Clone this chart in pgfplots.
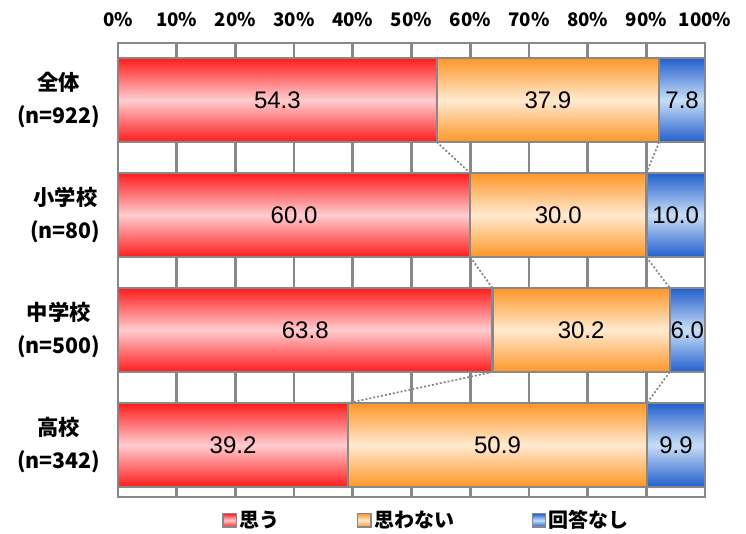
\documentclass[border=0pt]{standalone}
\usepackage{pgfplots}
\pgfplotsset{compat=1.18}
\usepackage{pgfplotstable}
\usepackage{fontspec}
\setmainfont{Liberation Sans}
\newfontfamily\jp{Noto Sans CJK JP}
\definecolor{gridgray}{RGB}{136,136,136}
\definecolor{reddark}{RGB}{255,28,28}
\definecolor{redlight}{RGB}{255,205,208}
\definecolor{ordark}{RGB}{255,150,40}
\definecolor{orlight}{RGB}{255,234,208}
\definecolor{bldark}{RGB}{35,95,205}
\definecolor{bllight}{RGB}{200,222,246}
% one small table per group: y position, 思う, 思わない, 回答なし
\pgfplotstableread{
y a b c
3 54.3 37.9 7.8
}\tZentai
\pgfplotstableread{
y a b c
2 60.0 30.0 10.0
}\tShou
\pgfplotstableread{
y a b c
1 63.8 30.2 6.0
}\tChuu
\pgfplotstableread{
y a b c
0 39.2 50.9 9.9
}\tKou
\pgfplotsset{
 geom/.style={at={(88.5pt,27pt)}, anchor=south west,
   scale only axis, width=440.25pt, height=340.5pt,
   xmin=0, xmax=100, ymin=-0.452, ymax=3.496},
 rowaxis/.style={geom, hide axis, xbar stacked, bar width=0.73,
   point meta=explicit,
   nodes near coords={\pgfmathprintnumber[fixed,fixed zerofill,precision=1,assume math mode=true]{\pgfplotspointmeta}},
   every node near coord/.append style={font=\fontsize{18}{20}\selectfont, anchor=center, text=black}},
 redbar/.style={draw=gridgray, line width=1.8pt, top color=reddark, bottom color=reddark, middle color=redlight},
 orbar/.style={draw=gridgray, line width=1.8pt, top color=ordark, bottom color=ordark, middle color=orlight},
 blbar/.style={draw=gridgray, line width=1.8pt, top color=bldark, bottom color=bldark, middle color=bllight},
 serline/.style={gridgray, line width=1.3pt, dash pattern=on 1.5pt off 1.5pt, forget plot},
}
\newcommand\row[1]{%
\begin{axis}[rowaxis]
\addplot[redbar] table[x=a, y=y, meta=a] {#1};
\addplot[orbar] table[x=b, y=y, meta=b] {#1};
\addplot[blbar] table[x=c, y=y, meta=c] {#1};
\end{axis}}
\begin{document}
\begin{tikzpicture}
\useasboundingbox (0,0) rectangle (559.5pt,399.75pt);
\clip (0,0) rectangle (559.5pt,399.75pt);
\begin{axis}[geom,
 xtick={0,10,...,100},
 xticklabels={0\%,10\%,20\%,30\%,40\%,50\%,60\%,70\%,80\%,90\%,100\%},
 xticklabel pos=upper,
 ytick={0,1,2,3},
 yticklabels={{高校\\(n=342)},{中学校\\(n=500)},{小学校\\(n=80)},{全体\\(n=922)}},
 major tick length=0pt,
 xmajorgrids, grid style={line width=2pt, gridgray},
 axis line style={line width=2pt, gridgray},
 xticklabel style={font=\jp\bfseries\fontsize{14}{16}\selectfont, inner sep=0pt, yshift=12pt},
 yticklabel style={font=\jp\bfseries\fontsize{16}{25}\selectfont, align=center, inner sep=0pt, xshift=-13pt},
 legend columns=3,
 legend style={font=\jp\bfseries\fontsize{15}{18}\selectfont, draw=none, fill=none, at={(0.177,0)}, anchor=north west, yshift=-8pt, inner sep=0pt, /tikz/every even column/.append style={column sep=56pt}},
 legend image code/.code={\draw[#1, line width=1pt] (0pt,-5pt) rectangle (10pt,5pt);},
]
\addlegendimage{redbar}
\addlegendimage{orbar}
\addlegendimage{blbar}
\legend{思う,思わない,回答なし}
% series lines joining the segment ends of neighbouring bars
\addplot[serline] coordinates {(54.3,2.635) (60.0,2.365)};
\addplot[serline] coordinates {(60.0,1.635) (63.8,1.365)};
\addplot[serline] coordinates {(63.8,0.635) (39.2,0.365)};
\addplot[serline] coordinates {(92.2,2.635) (90.0,2.365)};
\addplot[serline] coordinates {(90.0,1.635) (94.0,1.365)};
\addplot[serline] coordinates {(94.0,0.635) (90.1,0.365)};
\end{axis}
\row{\tZentai}
\row{\tShou}
\row{\tChuu}
\row{\tKou}
\end{tikzpicture}
\end{document}
